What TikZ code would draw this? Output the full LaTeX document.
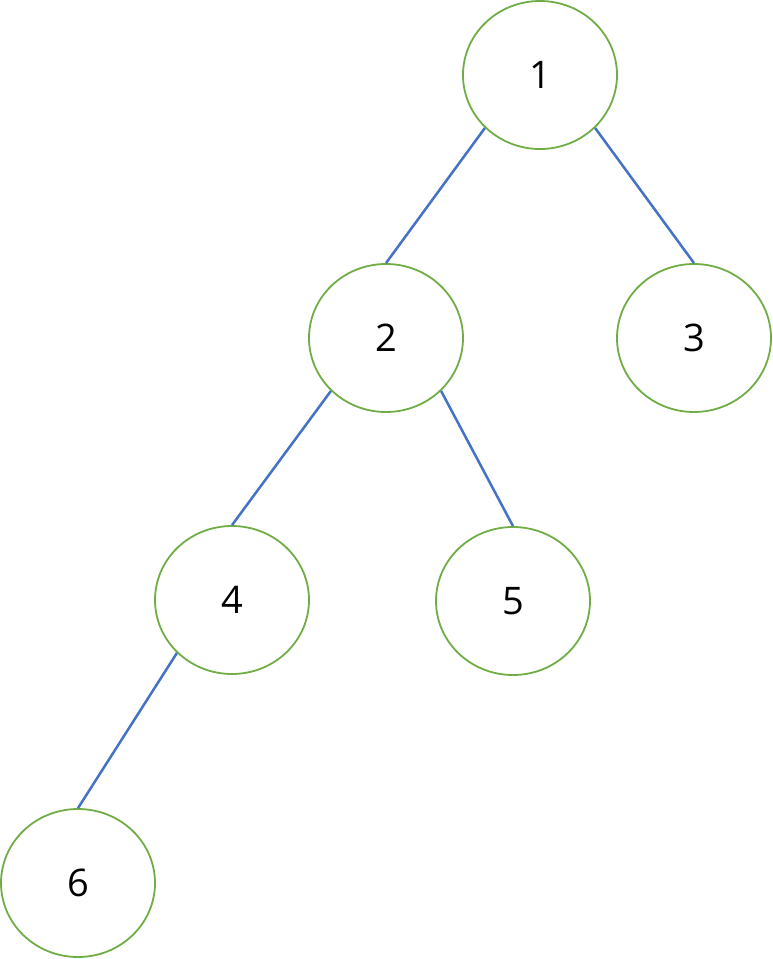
\documentclass[tikz,border=0pt]{standalone}
\usepackage{fontspec}
\setmainfont{Open Sans}
\usetikzlibrary{shapes.geometric}
\definecolor{nodegreen}{HTML}{70AD47}
\definecolor{edgeblue}{HTML}{4472C4}
\begin{document}
\begin{tikzpicture}[x=1pt,y=-1pt,
  treenode/.style={ellipse, draw=nodegreen, line width=1.8pt, minimum width=154pt, minimum height=148pt, inner sep=0pt, font=\fontsize{38}{42}\selectfont},
  treeedge/.style={draw=edgeblue, line width=2.5pt}]
\useasboundingbox (0,0) rectangle (773,959);
\node[treenode] (n1) at (540,75) {1};
\node[treenode] (n2) at (386,338) {2};
\node[treenode] (n3) at (694,338) {3};
\node[treenode] (n4) at (232,600) {4};
\node[treenode] (n5) at (513,601) {5};
\node[treenode] (n6) at (78,883) {6};
\draw[treeedge] (n1.south west) -- (n2.north);
\draw[treeedge] (n1.south east) -- (n3.north);
\draw[treeedge] (n2.south west) -- (n4.north);
\draw[treeedge] (n2.south east) -- (n5.north);
\draw[treeedge] (n4.south west) -- (n6.north);
\end{tikzpicture}
\end{document}
